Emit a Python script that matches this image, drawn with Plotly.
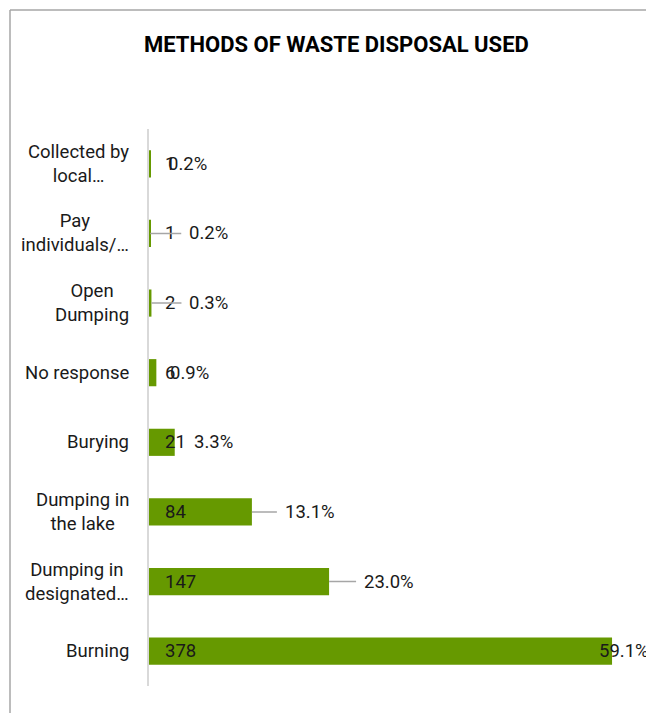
import plotly.graph_objects as go

# ---- data ----
categories = ["Collected by<br>local…", "Pay<br>individuals/…", "Open<br>Dumping", "No response",
              "Burying", "Dumping in<br>the lake", "Dumping in<br>designated…", "Burning"]
counts = [1, 1, 2, 6, 21, 84, 147, 378]
pct_labels = ["0.2%", "0.2%", "0.3%", "0.9%", "3.3%", "13.1%", "23.0%", "59.1%"]
title_text = "METHODS OF WASTE DISPOSAL USED"

# ---- style ----
pct_offsets = [18, 37, 36, 14, 19, 31, 33, -13]   # pixel offsets of percent labels from bar end
pct_leader = [False, True, True, False, False, True, True, False]
BAR = "#669900"
TXT = "#1a1a1a"
FONT = "Roboto"
FS = 18.5

W, H = 646, 713
ml, mr, mt, mb = 149, 7, 129, 27
pw = W - ml - mr
ph = H - mt - mb

fig = go.Figure()
fig.add_trace(go.Bar(
    y=categories, x=counts, orientation="h",
    marker=dict(color=BAR, line=dict(width=0)),
    hoverinfo="skip",
))

ann = []
for cat, c, p, off, lead in zip(categories, counts, pct_labels, pct_offsets, pct_leader):
    ann.append(dict(x=0, y=cat, xref="paper", yref="y", text=cat, showarrow=False,
                    xanchor="right", align="center", xshift=-18,
                    font=dict(family=FONT, size=FS, color=TXT)))
    ann.append(dict(x=0, y=cat, xref="x", yref="y", text=str(c), showarrow=False,
                    xanchor="left", xshift=14,
                    font=dict(family=FONT, size=FS, color=TXT)))
    if lead:
        ann.append(dict(x=c, y=cat, xref="x", yref="y", text=p, showarrow=True,
                        arrowhead=0, arrowwidth=1.5, arrowcolor="#a6a6a6",
                        ax=off, ay=0, xanchor="left", startstandoff=6,
                        font=dict(family=FONT, size=FS, color=TXT)))
    else:
        ann.append(dict(x=c, y=cat, xref="x", yref="y", text=p, showarrow=False,
                        xanchor="left", xshift=off - 2,
                        font=dict(family=FONT, size=FS, color=TXT)))

ann.append(dict(x=(336 - ml) / pw, y=(H - mb - 45) / ph, xref="paper", yref="paper",
                text=f"<b>{title_text}</b>", showarrow=False, xanchor="center", yanchor="middle",
                font=dict(family=FONT, size=22, color="#000000")))

fx0 = (10 - ml) / pw
fy_top = (H - mb - 10) / ph
shapes = [
    dict(type="line", xref="paper", yref="paper", x0=fx0, x1=fx0, y0=fy_top, y1=-1, line=dict(color="#a6a6a6", width=1.5)),
    dict(type="line", xref="paper", yref="paper", x0=fx0, x1=2, y0=fy_top, y1=fy_top, line=dict(color="#a6a6a6", width=1.5)),
]

fig.update_layout(
    width=W, height=H,
    margin=dict(l=ml, r=mr, t=mt, b=mb, pad=0),
    paper_bgcolor="white", plot_bgcolor="white",
    showlegend=False,
    bargap=0.61,
    annotations=ann,
    shapes=shapes,
    xaxis=dict(range=[0, 400], visible=False, fixedrange=True),
    yaxis=dict(autorange="reversed", showticklabels=False, ticks="", showgrid=False,
               showline=True, linecolor="#d9d9d9", linewidth=2, zeroline=False, fixedrange=True),
)

fig.write_html("out.html", config={"displayModeBar": False},
               post_script="document.body.style.margin='0';document.body.style.overflow='hidden';")
